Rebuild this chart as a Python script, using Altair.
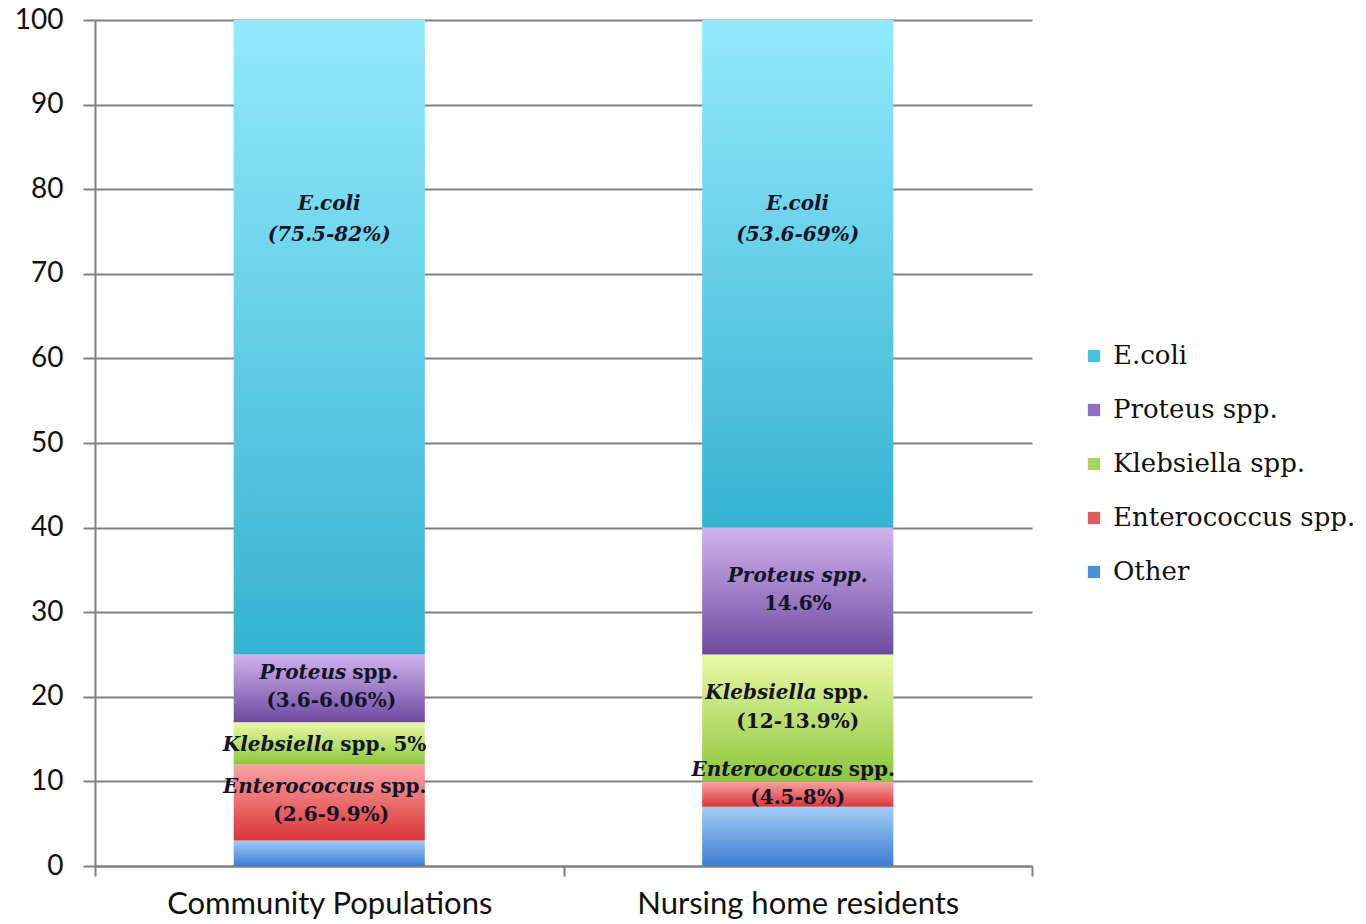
import altair as alt
import pandas as pd

groups = ["Community Populations", "Nursing home residents"]
species = ["Other", "Enterococcus spp.", "Klebsiella spp.", "Proteus spp.", "E.coli"]
legend_order = ["E.coli", "Proteus spp.", "Klebsiella spp.", "Enterococcus spp.", "Other"]
community_values = [3, 9, 5, 8, 75]
nursing_values = [7, 3, 15, 15, 60]

grad_top = {
    "Other": "#a3cdf7", "Enterococcus spp.": "#f9a3a3", "Klebsiella spp.": "#e9f9a6",
    "Proteus spp.": "#d1b3ee", "E.coli": "#93eafc",
}
grad_bottom = {
    "Other": "#3d7dd0", "Enterococcus spp.": "#d93638", "Klebsiella spp.": "#8dc63c",
    "Proteus spp.": "#6d4a9f", "E.coli": "#36b2d2",
}
legend_colors = ["#45c3e0", "#8e6fc4", "#a9d55c", "#e25c5c", "#4a8fdc"]

# bar-label pieces: group, value-axis position, text, style, alignment, split
label_group = ["Community Populations"] * 10 + ["Nursing home residents"] * 10
label_y = [78.3, 74.6, 22.8, 22.8, 19.5, 14.3, 14.3, 9.3, 9.3, 6.0,
           78.3, 74.6, 34.3, 31.0, 20.4, 20.4, 17.0, 11.3, 11.3, 8.0]
label_text = ["E.coli", "(75.5-82%)", "Proteus", "spp.", "(3.6-6.06%)", "Klebsiella", "spp. 5%",
              "Enterococcus", "spp.", "(2.6-9.9%)",
              "E.coli", "(53.6-69%)", "Proteus spp.", "14.6%", "Klebsiella", "spp.", "(12-13.9%)",
              "Enterococcus", "spp.", "(4.5-8%)"]
label_style = ["italic", "italic", "italic", "normal", "normal", "italic", "normal", "italic", "normal", "normal",
               "italic", "italic", "italic", "normal", "italic", "normal", "normal", "italic", "normal", "normal"]
label_align = ["center", "center", "right", "left", "center", "right", "left", "right", "left", "center",
               "center", "center", "center", "center", "right", "left", "center", "right", "left", "center"]
label_split = [0, 0, 20, 20, 2, 8, 8, 48, 48, 2,
               0, 0, 0, 0, 22, 22, 0, 48, 48, 0]

PLOT_W, PLOT_H = 937, 846
half_band = PLOT_W / len(groups) / 2
gap = 3

labels = pd.DataFrame({"group": label_group, "y": label_y, "text": label_text,
                       "style": label_style, "align": label_align, "split": label_split})
labels["dx"] = labels.apply(
    lambda r: half_band + r["split"] + (-gap if r["align"] == "right" else gap if r["align"] == "left" else 0),
    axis=1)

recs = []
for g, vals in zip(groups, [community_values, nursing_values]):
    cum = 0
    for s, v in zip(species, vals):
        recs.append({"group": g, "species": s, "start": cum, "end": cum + v})
        cum += v
df = pd.DataFrame(recs)

x_scale = alt.Scale(domain=groups, paddingInner=0, paddingOuter=0)
x_axis = alt.Axis(labelAngle=0, labelFont="Lato", labelFontSize=31, labelColor="#111111",
                  tickBand="extent", tickSize=10, tickColor="#808080", tickWidth=2,
                  domainColor="#808080", domainWidth=2, labelPadding=13, grid=False,
                  labelLimit=600, title=None)
y_scale = alt.Scale(domain=[0, 100], nice=False)
y_axis = alt.Axis(values=list(range(0, 101, 10)), labelFont="Lato", labelFontSize=28,
                  labelColor="#111111", tickSize=12, tickColor="#808080", tickWidth=2,
                  domainColor="#808080", domainWidth=2, grid=True, gridColor="#808080",
                  gridWidth=2, labelPadding=20, title=None)

def xenc():
    return alt.X("group:N", sort=groups, scale=x_scale, axis=x_axis)

def yenc(field):
    return alt.Y(field, scale=y_scale, axis=y_axis)

layers = []
for s in species:
    grad = alt.LinearGradient(gradient="linear", x1=0, y1=0, x2=0, y2=1,
                              stops=[alt.GradientStop(color=grad_top[s], offset=0),
                                     alt.GradientStop(color=grad_bottom[s], offset=1)])
    layers.append(
        alt.Chart(df).transform_filter(alt.datum.species == s)
        .mark_bar(color=grad, width=alt.RelativeBandSize(0.408))
        .encode(x=xenc(), y=yenc("start:Q"), y2="end:Q")
    )

legend_layer = alt.Chart(df).mark_square(opacity=0, size=1).encode(
    x=xenc(),
    y=yenc("end:Q"),
    color=alt.Color("species:N", sort=legend_order,
                    scale=alt.Scale(domain=legend_order, range=legend_colors),
                    legend=alt.Legend(title=None, orient="none", legendX=986, legendY=323,
                                      symbolType="square", symbolSize=150, symbolOpacity=1,
                                      symbolStrokeWidth=0, labelFont="DejaVu Serif",
                                      labelFontSize=26, labelColor="#111111", rowPadding=28,
                                      labelOffset=6, labelLimit=400)),
)
layers.append(legend_layer)

for style in ["italic", "normal"]:
    for align in ["center", "left", "right"]:
        sub = labels[(labels["style"] == style) & (labels["align"] == align)]
        if len(sub) == 0:
            continue
        layers.append(
            alt.Chart(sub).mark_text(font="DejaVu Serif", fontSize=20, fontWeight="bold",
                                     fontStyle=style, align=align, baseline="middle",
                                     color="#141428").encode(
                x=xenc(),
                xOffset=alt.XOffset("dx:Q", scale=None),
                y=yenc("y:Q"),
                text="text:N",
            )
        )

chart = alt.layer(*layers).properties(
    width=PLOT_W, height=PLOT_H, autosize=alt.AutoSizeParams(type="none"),
    padding={"left": 95, "top": 20, "right": 334, "bottom": 58},
).configure(background="white").configure_view(stroke=None)

chart.save("out.html", embed_options={"renderer": "svg", "actions": False})
